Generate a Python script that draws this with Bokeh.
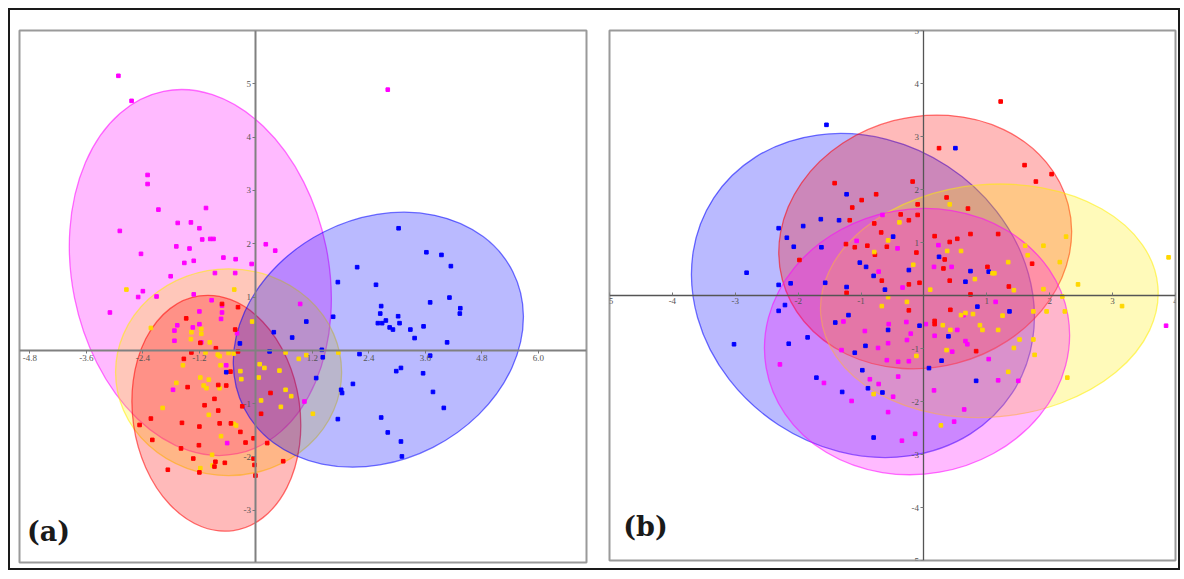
from bokeh.plotting import figure
from bokeh.layouts import row
from bokeh.models import FixedTicker, NumeralTickFormatter, Label
from bokeh.embed import file_html
from bokeh.resources import INLINE

# ---------------- Panel (a) data ----------------
MAG_A_X = [-2.92, -2.64, 2.80, -2.30, -2.30, -2.07, -1.06, -2.89, -1.66, -1.38, -1.20, -1.14, -0.97, -0.90,
           -1.69, -1.41, -2.44, 0.21, 0.41, -0.69, -0.43, -1.52, -1.32, -0.09, -1.81, -0.87, -0.44, -2.40,
           -2.50, -2.11, -1.32, -3.10, -0.94, -0.72, -0.72, -0.74, -1.20, -1.67, -1.34, -1.20, -1.73, -1.73,
           -1.16, -0.40, -0.63, -1.76, -0.61, 0.94, 1.03]
MAG_A_Y = [5.15, 4.68, 4.89, 3.29, 3.12, 2.64, 2.67, 2.24, 2.39, 2.40, 2.29, 2.08, 2.09, 2.09,
           1.95, 1.91, 1.81, 1.99, 1.87, 1.74, 1.71, 1.64, 1.68, 1.62, 1.39, 1.45, 1.45, 1.11,
           1.00, 1.01, 1.05, 0.71, 0.94, 0.84, 0.71, 0.59, 0.73, 0.47, 0.43, 0.49, 0.18, 0.37,
           0.15, 0.32, -0.28, -0.74, -1.74, 0.87, -0.96]

RED_A_X = [-0.72, -0.38, -1.48, -0.44, -1.18, -0.85, -1.37, -0.38, -1.53, -0.54, -1.45, -0.80, -0.63, -0.88,
           -1.09, -0.29, -0.80, 0.11, -2.23, -1.57, -1.20, -0.77, -0.53, -0.33, -2.47, -0.05, -0.22, -2.20,
           -1.21, -1.59, 0.24, -1.33, -0.86, -0.66, -0.88, -0.05, -0.03, -0.01, 0.58, -1.87, 0.31, -1.20]
RED_A_Y = [0.87, 0.81, 0.60, 0.39, 0.14, 0.04, -0.04, -0.02, -0.16, -0.40, -0.69, -0.65, -0.66, -0.91,
           -1.03, -1.05, -1.13, -1.19, -1.28, -1.36, -1.43, -1.37, -1.37, -1.53, -1.40, -1.65, -1.73, -1.68,
           -1.78, -1.84, -1.74, -2.03, -2.09, -2.11, -2.18, -2.03, -2.15, -2.35, -2.08, -2.24, -0.80, -2.29]

YEL_A_X = [-2.75, -0.46, -2.23, -1.37, -1.16, -1.16, -1.38, -0.98, -0.08, -1.07, -0.81, -0.77, -0.58, -0.47,
           -1.55, -0.75, -1.18, -1.00, -1.11, -1.05, -0.77, -1.69, -0.33, -0.31, 0.08, 0.18, 0.06, 0.50,
           0.63, 0.91, 1.07, 0.63, 0.75, 0.53, 0.11, -1.98, -1.00, -0.47, -0.42, -0.74, -1.18, 1.21,
           -0.93, -0.92, 1.75]
YEL_A_Y = [1.14, 1.14, 0.42, 0.34, 0.40, 0.31, 0.21, 0.15, 0.54, -0.04, -0.08, -0.11, -0.05, -0.06,
           -0.28, -0.28, -0.51, -0.55, -0.66, -0.71, -0.71, -0.61, -0.39, -0.54, -0.26, -0.33, -0.51, -0.38,
           -0.04, -0.16, -0.09, -0.74, -0.86, -1.06, -0.94, -1.08, -1.21, -1.38, -1.41, -1.61, -2.21, -1.19,
           -1.96, -2.16, -0.04]

BLU_A_X = [3.03, 3.62, 3.94, 4.14, 2.15, 1.74, 2.55, 3.70, 4.11, 4.34, 4.33, 2.66, 2.64, 3.02, 3.05,
           2.59, 2.68, 2.76, 2.84, 2.91, 3.28, 3.56, 3.37, 4.06, 1.07, 1.64, 0.38, 0.77, 0.29, 1.40,
           1.42, 2.20, 3.70, 2.98, 3.08, 3.55, 2.06, 1.81, 1.83, 1.28, 3.76, 3.99, 1.74, 2.66, 2.80,
           3.08, 3.10, -0.34, -0.63]
BLU_A_Y = [2.29, 1.84, 1.79, 1.58, 1.56, 1.28, 1.23, 0.90, 0.99, 0.79, 0.69, 0.83, 0.69, 0.64, 0.51,
           0.51, 0.51, 0.56, 0.43, 0.39, 0.39, 0.45, 0.23, 0.15, 0.54, 0.63, 0.34, 0.24, -0.02, 0.01,
           -0.13, -0.07, -0.10, -0.39, -0.33, -0.43, -0.63, -0.74, -0.80, -0.52, -0.78, -1.08, -1.29, -1.26, -1.54,
           -1.71, -1.99, 0.13, -0.41]

# confidence ellipses (a): magenta, yellow, red, blue
ELL_A_X = [-1.18, -0.58, -0.84, 2.60]
ELL_A_Y = [1.46, -0.41, -1.18, 0.20]
ELL_A_W = [5.45, 4.80, 3.55, 6.40]
ELL_A_H = [6.94, 3.88, 4.45, 4.53]
ELL_A_ANG = [0.20, 0.0, 0.145, 0.47]

XT_A = [-4.8, -3.6, -2.4, -1.2, 1.2, 2.4, 3.6, 4.8, 6.0]
YT_A = [-4, -3, -2, -1, 1, 2, 3, 4, 5]

# ---------------- Panel (b) data ----------------
BLU_B_X = [-1.55, -1.23, -2.31, -1.92, -1.64, -1.35, -2.18, -2.07, -1.63, -2.82, -2.31, -2.12, -1.57, -1.23,
           -1.02, -0.92, -0.80, -0.49, -0.24, -0.62, -2.21, -2.31, -1.20, -1.41, -0.57, -0.07, -3.02, -2.15,
           -1.85, -1.10, -0.93, -0.98, -1.71, -1.30, -0.89, -0.66, -0.80,
           0.50, 0.24, 0.74, 1.03, 0.66, 0.85, 1.36, 0.39, 0.28, 0.08, 0.83]
BLU_B_Y = [3.22, 1.91, 1.27, 1.31, 1.44, 1.42, 1.09, 0.92, 0.91, 0.43, 0.20, 0.23, 0.24, 0.16,
           0.62, 0.54, 0.37, 1.11, 0.48, 0.11, -0.18, -0.29, -0.37, -0.51, -0.65, -0.57, -0.92, -0.91,
           -0.79, -1.08, -0.95, -1.41, -1.55, -1.82, -1.75, -1.83, -2.68,
           2.78, 0.73, 0.46, 0.45, 0.26, -0.21, -0.30, -0.77, -1.23, -1.37, -1.61]

RED_B_X = [-1.42, -0.99, -0.76, -1.14, -1.18, -0.18, -0.10, -0.10, -0.37, -0.24, -0.79, -0.68, -1.24, -1.10,
           -0.90, -0.59, -0.78, -0.12, -1.98, -0.67, -0.24, -0.07, -1.23, -0.24,
           1.22, 0.24, 1.60, 2.03, 1.78, 0.36, 0.70, 0.17, 0.53, 0.74, 1.18, 0.41, 0.33, 0.31,
           1.01, 1.72, 0.41, 1.35, 0.74, 0.42, 0.17, 0.17, 0.83]
RED_B_Y = [2.12, 1.80, 1.91, 1.66, 1.42, 2.15, 1.72, 1.52, 1.53, 1.42, 1.36, 1.19, 0.97, 0.91,
           0.94, 0.92, 0.77, 0.81, 0.67, 0.28, 0.21, 0.24, 0.05, -0.28,
           3.66, 2.78, 2.46, 2.29, 2.15, 1.85, 1.64, 1.12, 1.07, 1.16, 1.16, 1.01, 0.68, 0.51,
           0.54, 0.60, 0.28, 0.17, 0.02, -0.27, -0.48, -0.54, -1.05]

MAG_B_X = [-0.66, -1.07, -0.42, -0.72, -0.34, -1.28, -0.94, -0.56, -0.28, -0.21, -0.57, -0.27, -0.73, -1.31,
           -0.59, -0.41, -0.24, -0.41, -2.29, -1.59, -1.15, -0.86, -0.72, -0.49, -0.57, -0.35, -0.14,
           0.23, 0.16, 0.44, 1.14, 0.63, 0.53, 0.17, 0.66, 0.69, 0.45, 1.03, 1.18, 1.50, 0.16,
           0.64, 0.48, 3.85, 0.03]
MAG_B_Y = [1.52, 1.03, 0.89, 0.45, 0.15, -0.49, -0.67, -0.54, -0.50, -0.72, -0.90, -0.84, -0.99, -1.03,
           -1.22, -1.25, -1.24, -1.53, -1.30, -1.65, -1.99, -1.58, -1.67, -1.91, -2.20, -2.74, -2.61,
           0.95, 0.54, 0.54, -0.12, -0.37, -0.65, -0.76, -0.86, -0.92, -1.06, -1.20, -1.60, -1.61, -1.79,
           -2.15, -2.38, -0.57, -0.54]

YEL_B_X = [-0.39, -0.57, -0.79, -0.17, -0.57, -0.67, -0.27, -0.12, -0.80,
           0.41, 0.59, 0.37, 1.34, 0.81, 1.09, 1.12, 0.10, 1.43, 1.61, 1.65, 1.90, 2.26, 2.16,
           1.90, 2.45, 2.20, 3.89, 3.15, 0.59, 0.66, 0.78, 0.30, 0.42, 0.89, 0.93, 1.25, 1.18,
           1.74, 1.95, 2.24, 1.52, 1.43, 1.74, 1.76, 0.36, 1.34, 2.28, 0.27]
YEL_B_Y = [1.38, 1.04, 0.82, 0.58, -0.03, -0.20, -0.12, -1.14, -1.86,
           1.72, 0.84, 0.84, 0.63, 0.31, 0.42, 0.42, 0.11, 0.10, 0.94, 0.76, 0.94, 1.11, 0.63,
           0.12, 0.21, -0.02, 0.72, -0.20, -0.37, -0.33, -0.35, -0.56, -0.65, -0.56, -0.65, -0.38, -0.65,
           -0.30, -0.30, -0.30, -0.83, -0.99, -0.83, -1.12, -1.03, -1.44, -1.55, -2.45]

# confidence ellipses (b): blue, red, yellow, magenta
ELL_B_X = [-0.97, 0.02, 1.04, -0.11]
ELL_B_Y = [0.00, 1.01, -0.10, -0.87]
ELL_B_W = [5.67, 4.70, 5.38, 4.87]
ELL_B_H = [5.83, 4.73, 4.39, 5.00]
ELL_B_ANG = [-0.58, 0.257, 0.085, 0.17]

XT_B = [-5, -4, -3, -2, -1, 1, 2, 3, 4]
YT_B = [-5, -4, -3, -2, -1, 1, 2, 3, 4, 5]

MAGENTA = "#FF00FF"
YELLOW = "#FFEE00"
YELLOW_PT = "#FFD700"
RED = "#FF0000"
BLUE = "#0000FF"
PT_SIZE = 3.6


def base_figure(xr, yr, fw, fh, left, right, top, bottom):
    p = figure(x_range=xr, y_range=yr, frame_width=fw, frame_height=fh,
               min_border_left=left, min_border_right=right,
               min_border_top=top, min_border_bottom=bottom,
               output_backend="svg", toolbar_location=None,
               background_fill_color="white", border_fill_color="white")
    p.xgrid.visible = False
    p.ygrid.visible = False
    p.outline_line_color = "#9a9a9a"
    p.outline_line_width = 2
    p.xaxis.fixed_location = 0
    p.yaxis.fixed_location = 0
    for ax in (p.xaxis, p.yaxis):
        ax.major_label_text_font = "Liberation Serif"
        ax.major_label_text_font_size = "9px"
        ax.major_label_text_color = "#555555"
        ax.minor_tick_line_color = None
        ax.major_tick_line_color = "#777777"
        ax.major_label_standoff = 2
    return p


def add_ellipses(p, xs, ys, ws, hs, angs, colors):
    for i, c in enumerate(colors):
        p.ellipse(x=xs[i], y=ys[i], width=ws[i], height=hs[i], angle=angs[i],
                  fill_color=c, fill_alpha=0.27, line_color=c, line_alpha=0.55, line_width=1.3)


# ---------------- Panel (a) ----------------
pa = base_figure((-5.02, 7.02), (-3.98, 6.0), 567, 532, 9, 14, 18, 8)
pa.xaxis.ticker = FixedTicker(ticks=XT_A)
pa.xaxis.formatter = NumeralTickFormatter(format="0.0")
pa.yaxis.ticker = FixedTicker(ticks=YT_A)
pa.yaxis.formatter = NumeralTickFormatter(format="0")
for ax in (pa.xaxis, pa.yaxis):
    ax.axis_line_color = "#808080"
    ax.axis_line_width = 2
    ax.major_tick_out = 3
    ax.major_tick_in = 0

add_ellipses(pa, ELL_A_X, ELL_A_Y, ELL_A_W, ELL_A_H, ELL_A_ANG, [MAGENTA, YELLOW, RED, BLUE])
pa.scatter(MAG_A_X, MAG_A_Y, marker="square", size=PT_SIZE, color=MAGENTA)
pa.scatter(YEL_A_X, YEL_A_Y, marker="square", size=PT_SIZE, color=YELLOW_PT)
pa.scatter(RED_A_X, RED_A_Y, marker="square", size=PT_SIZE, color=RED)
pa.scatter(BLU_A_X, BLU_A_Y, marker="square", size=PT_SIZE, color=BLUE)
pa.add_layout(Label(x=-4.86, y=-3.68, text="(a)", text_font="DejaVu Serif",
                    text_font_style="bold", text_font_size="27px", text_color="#1a1a1a"))

# ---------------- Panel (b) ----------------
pb = base_figure((-5.0, 4.0), (-5.0, 5.0), 566, 530, 9, 3, 20, 8)
pb.xaxis.ticker = FixedTicker(ticks=XT_B)
pb.yaxis.ticker = FixedTicker(ticks=YT_B)
pb.xaxis.formatter = NumeralTickFormatter(format="0")
pb.yaxis.formatter = NumeralTickFormatter(format="0")
for ax in (pb.xaxis, pb.yaxis):
    ax.axis_line_color = "#555555"
    ax.axis_line_width = 1.3
pb.xaxis.major_tick_out = 0
pb.xaxis.major_tick_in = 3
pb.yaxis.major_tick_out = 3
pb.yaxis.major_tick_in = 0

add_ellipses(pb, ELL_B_X, ELL_B_Y, ELL_B_W, ELL_B_H, ELL_B_ANG, [BLUE, RED, YELLOW, MAGENTA])
pb.scatter(BLU_B_X, BLU_B_Y, marker="square", size=PT_SIZE, color=BLUE)
pb.scatter(RED_B_X, RED_B_Y, marker="square", size=PT_SIZE, color=RED)
pb.scatter(MAG_B_X, MAG_B_Y, marker="square", size=PT_SIZE, color=MAGENTA)
pb.scatter(YEL_B_X, YEL_B_Y, marker="square", size=PT_SIZE, color=YELLOW_PT)
pb.add_layout(Label(x=-4.78, y=-4.66, text="(b)", text_font="DejaVu Serif",
                    text_font_style="bold", text_font_size="27px", text_color="#1a1a1a"))

layout = row(pa, pb, styles={"border": "2px solid #1a1a1a", "background-color": "white",
                             "margin-left": "8px", "margin-top": "8px"})

open("out.html", "w").write(file_html(layout, INLINE))
